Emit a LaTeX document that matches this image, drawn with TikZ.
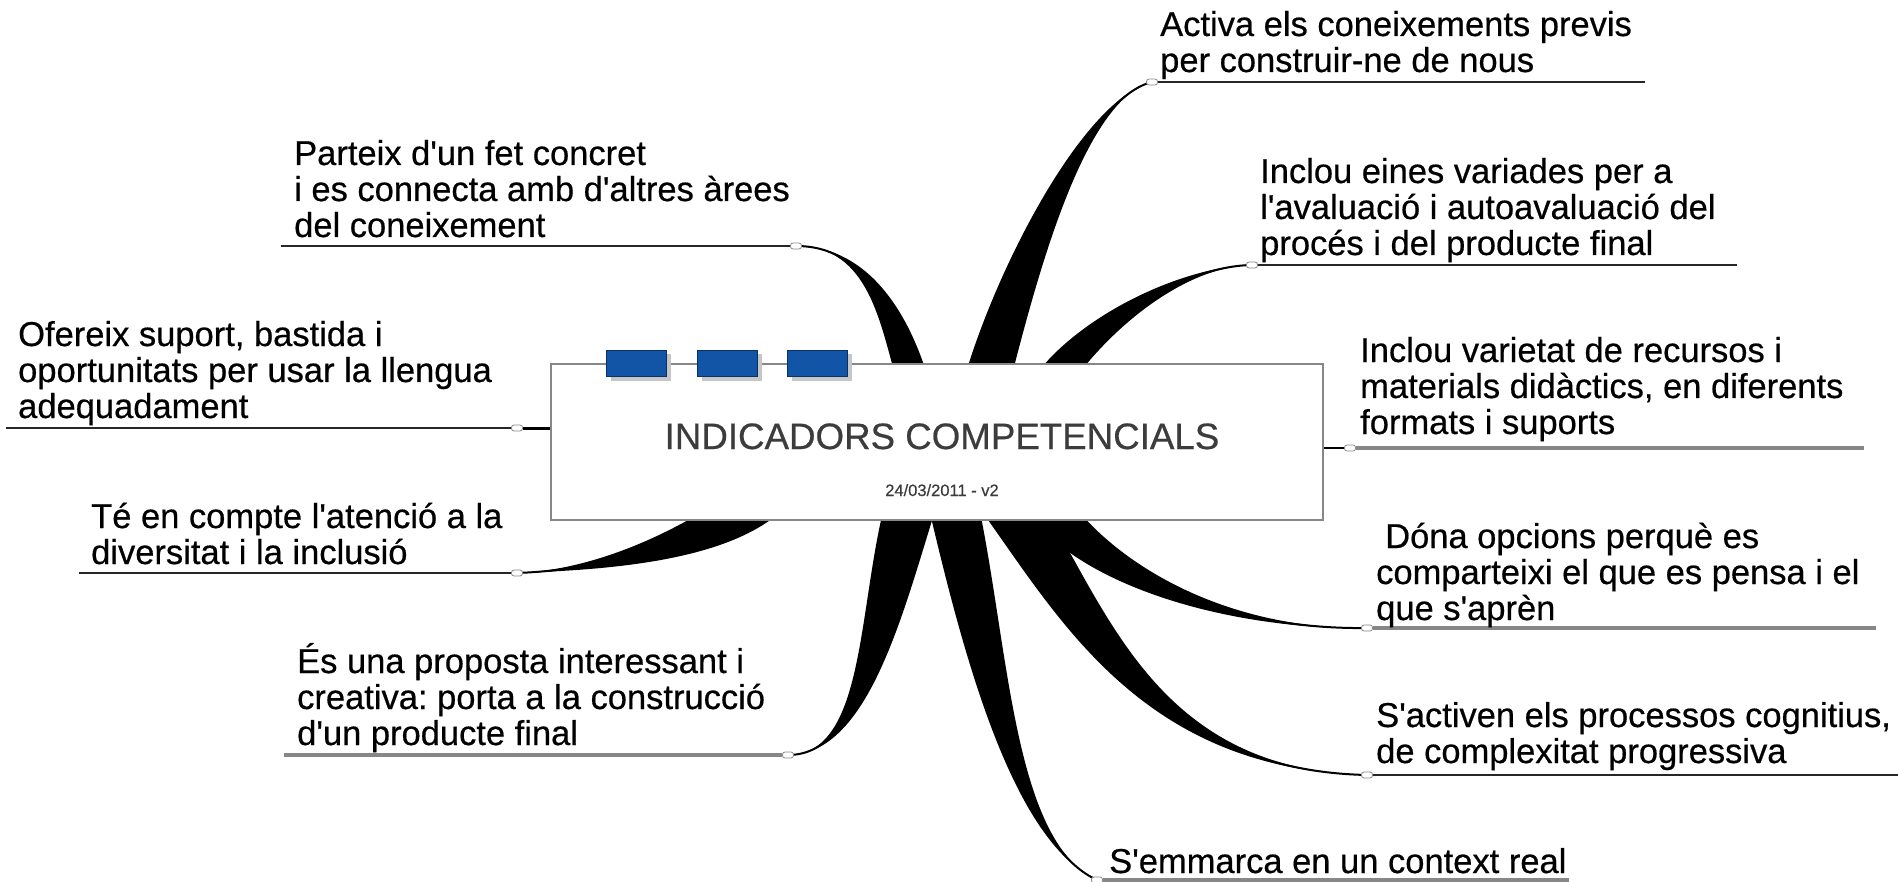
\documentclass[tikz,border=0pt]{standalone}
\usepackage{fontspec}
\setmainfont{Liberation Sans}[Ligatures=TeXOff,FakeBold=0.5]
\usetikzlibrary{calc,backgrounds}
\frenchspacing
\definecolor{mmblue}{RGB}{18,84,165}
\definecolor{mmdarkblue}{RGB}{10,48,105}
\definecolor{titlegray}{RGB}{60,60,60}
\definecolor{linegray}{RGB}{135,135,135}
\tikzset{
 topic/.style={anchor=base west,align=left,inner sep=0pt,text=black,
   font=\fontsize{34.5}{36}\selectfont},
 knot/.style={draw=linegray,fill=white,line width=0.8,rounded corners=2.5,
   minimum width=11,minimum height=6,inner sep=0pt},
 darkline/.style={line width=2,black!85},
 greyline/.style={line width=3.5,linegray},
}
% tapered branch: start, half width, control 1, control 2, end node
\newcommand{\taper}[5]{%
  \fill ($(#1)+(#2)$) .. controls ($(#3)+(#2)$) and (#4) .. (#5.center)
        .. controls (#4) and ($(#3)-(#2)$) .. ($(#1)-(#2)$) -- cycle;
  \draw[line width=2] (#1) .. controls (#3) and (#4) .. (#5.center);
}

\begin{document}
\begin{tikzpicture}[x=1pt,y=-1pt]
    \useasboundingbox (0,0) rectangle (1898,882);

    % central topic
    \node[draw=linegray,fill=white,line width=1.2,minimum width=772,minimum height=156,inner sep=0pt] (centre) at (937,442) {};
    \node[anchor=base,text=titlegray,font=\fontsize{36.7}{40}\selectfont] (titol) at (942,449) {INDICADORS COMPETENCIALS};
    \node[anchor=base,text=titlegray,font=\fontsize{16.5}{20}\selectfont] (data) at (942,496) {24/03/2011 - v2};
    \foreach \x in {606,697,787} {
        \fill[gray!45] (\x+5,354) rectangle (\x+65,381);
        \draw[fill=mmblue,draw=mmdarkblue] (\x,350) rectangle (\x+60,376);
    }

    % left side
    \node[topic] (parteix) at (294,237) {Parteix d'un fet concret\\i es connecta amb d'altres àrees\\del coneixement};
    \node[topic] (ofereix) at (18,418) {Ofereix suport, bastida i\\oportunitats per usar la llengua\\adequadament};
    \node[topic] (atencio) at (91,564) {Té en compte l'atenció a la\\diversitat i la inclusió};
    \node[topic] (proposta) at (297,745) {És una proposta interessant i\\creativa: porta a la construcció\\d'un producte final};

    % right side
    \node[topic] (activa) at (1160,72) {Activa els coneixements previs\\per construir-ne de nous};
    \node[topic] (eines) at (1260,255) {Inclou eines variades per a\\l'avaluació i autoavaluació del\\procés i del producte final};
    \node[topic] (recursos) at (1360,434) {Inclou varietat de recursos i\\materials didàctics, en diferents\\formats i suports};
    \node[topic] (opcions) at (1376,620) {\hspace*{9pt}Dóna opcions perquè es\\comparteixi el que es pensa i el\\que s'aprèn};
    \node[topic] (processos) at (1376,763) {S'activen els processos cognitius,\\de complexitat progressiva};
    \node[topic] (context) at (1109,873) {S'emmarca en un context real};

    % knots
    \node[knot] (kparteix) at (796,246) {};
    \node[knot] (kofereix) at (517,428) {};
    \node[knot] (katencio) at (517,573) {};
    \node[knot] (kproposta) at (788,755) {};
    \node[knot] (kactiva) at (1152,82) {};
    \node[knot] (keines) at (1252,265) {};
    \node[knot] (krecursos) at (1350,448) {};
    \node[knot] (kopcions) at (1367,628) {};
    \node[knot] (kprocessos) at (1367,775) {};
    \node[knot] (kcontext) at (1097,880) {};

    \coordinate (uparteix) at (281,246);
    \coordinate (uofereix) at (6,428);
    \coordinate (uatencio) at (79,573);
    \coordinate (uproposta) at (284,755);
    \coordinate (uactiva) at (1645,82);
    \coordinate (ueines) at (1737,265);
    \coordinate (urecursos) at (1864,448);
    \coordinate (uopcions) at (1876,628);
    \coordinate (uprocessos) at (1898,775);
    \coordinate (ucontext) at (1569,880);

    \coordinate (sparteix) at (914,385);
    \coordinate (satencio) at (760,500);
    \coordinate (sproposta) at (915,490);
    \coordinate (sactiva) at (982,400);
    \coordinate (seines) at (1040,400);
    \coordinate (sopcions) at (1045,500);
    \coordinate (sprocessos) at (1000,490);
    \coordinate (scontext) at (950,490);

    \begin{pgfonlayer}{background}
        \taper{sparteix}{15,-4}{895,320}{870,246}{kparteix}
        \taper{satencio}{13,18}{700,545}{600,570}{katencio}
        \taper{sproposta}{24,8}{880,600}{870,755}{kproposta}
        \taper{sactiva}{22,6}{1010,290}{1080,100}{kactiva}
        \taper{seines}{15,9}{1080,330}{1180,266}{keines}
        \taper{sopcions}{17,-11}{1090,570}{1220,630}{kopcions}
        \taper{sprocessos}{22,-16}{1080,600}{1140,770}{kprocessos}
        \taper{scontext}{24,-6}{985,640}{1010,840}{kcontext}
        \draw[line width=3] (centre.west |- kofereix) -- (kofereix);
        \draw[line width=2] (centre.east |- krecursos) -- (krecursos);

        \draw[darkline] (kparteix) -- (uparteix);
        \draw[darkline] (kofereix) -- (uofereix);
        \draw[darkline] (katencio) -- (uatencio);
        \draw[greyline] (kproposta) -- (uproposta);
        \draw[darkline] (kactiva) -- (uactiva);
        \draw[darkline] (keines) -- (ueines);
        \draw[greyline] (krecursos) -- (urecursos);
        \draw[greyline] (kopcions) -- (uopcions);
        \draw[darkline] (kprocessos) -- (uprocessos);
        \draw[greyline] (kcontext) -- (ucontext);
    \end{pgfonlayer}
\end{tikzpicture}
\end{document}
